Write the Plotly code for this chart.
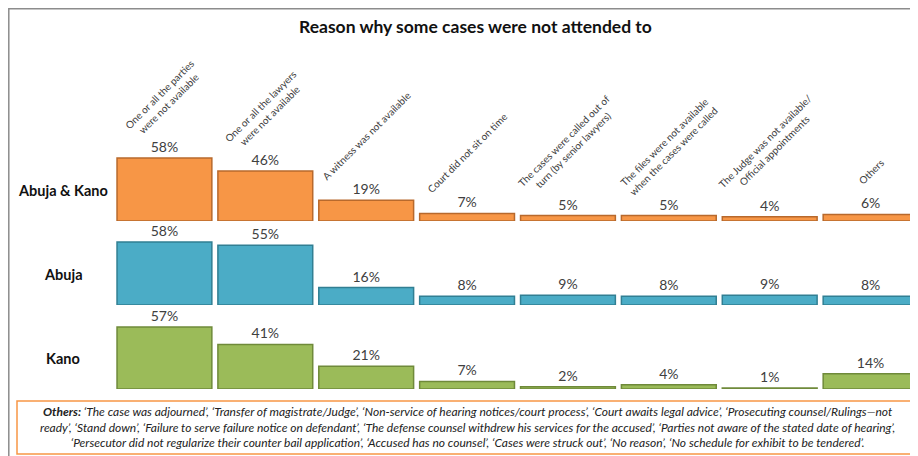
import plotly.graph_objects as go
from plotly.subplots import make_subplots

# category headers (rotated) and the three regions
reasons = [
    "One or all the parties<br>were not available",
    "One or all the lawyers<br>were not available",
    "A witness was not available",
    "Court did not sit on time",
    "The cases were called out of<br>turn (by senior lawyers)",
    "The files were not available<br>when the cases were called",
    "The Judge was not available/<br>Official appointments",
    "Others",
]
regions = ["Abuja & Kano", "Abuja", "Kano"]

abuja_kano = [58, 46, 19, 7, 5, 5, 4, 6]
abuja = [58, 55, 16, 8, 9, 8, 9, 8]
kano = [57, 41, 21, 7, 2, 4, 1, 14]

others_note = (
    "<b>Others:</b> ‘The case was adjourned’, ‘Transfer of magistrate/Judge’, "
    "‘Non-service of hearing notices/court process’, ‘Court awaits legal advice’, "
    "‘Prosecuting counsel/Rulings—not<br>ready’, ‘Stand down’, "
    "‘Failure to serve failure notice on defendant’, "
    "‘The defense counsel withdrew his services for the accused’, "
    "‘Parties not aware of the stated date of hearing’,<br>"
    "‘Persecutor did not regularize their counter bail application’, "
    "‘Accused has no counsel’, ‘Cases were struck out’, ‘No reason’, "
    "‘No schedule for exhibit to be tendered’."
)

FONT = "Lato"
TEXT_GREY = "#404040"
FILLS = ["#F79646", "#4BACC6", "#9BBB59"]
EDGES = ["#B8692C", "#317F93", "#6F8A3A"]

W, H = 918, 456
OFF = 8  # page body margin pushes the figure 8px right and down


def px_x(p):
    return (p - OFF) / W


def px_y(p):
    return 1 - (p - OFF) / H


fig = make_subplots(rows=3, cols=1, shared_xaxes=True, vertical_spacing=0)

series = [abuja_kano, abuja, kano]
for i, vals in enumerate(series):
    fig.add_trace(
        go.Bar(
            x=reasons,
            y=vals,
            marker=dict(color=FILLS[i], line=dict(color=EDGES[i], width=1.5)),
            texttemplate="%{y}%",
            textposition="outside",
            textfont=dict(family=FONT, size=14, color=TEXT_GREY),
            cliponaxis=False,
            showlegend=False,
        ),
        row=i + 1,
        col=1,
    )

# each row is 84px tall, baselines at 221 / 305 / 389 px
baselines = [221, 305, 389]
row_h = 84
yrange = [0, 77.3]
for i, base in enumerate(baselines):
    fig.update_yaxes(
        domain=[px_y(base), px_y(base - row_h)], range=yrange,
        visible=False, row=i + 1, col=1,
    )
fig.update_xaxes(
    domain=[px_x(114), 1.0], range=[-0.5, 7.47 + OFF / 100.8], visible=False,
)

annotations = []
# rotated category headers sitting above the first row's bars
for r, v in zip(reasons, abuja_kano):
    short = "<br>" not in r and len(r) < 12
    annotations.append(dict(
        x=r, y=v, xref="x", yref="y", yshift=25 if short else 15,
        text=r, showarrow=False,
        textangle=-45, xanchor="center", yanchor="bottom",
        font=dict(family=FONT, size=10, color=TEXT_GREY),
    ))

# row labels
for i, name in enumerate(regions):
    annotations.append(dict(
        x=px_x(63), y=28, xref="paper", yref="y" if i == 0 else f"y{i + 1}",
        xanchor="center", text=f"<b>{name}</b>", showarrow=False,
        font=dict(family=FONT, size=14.5, color="#111111"),
    ))

annotations.append(dict(
    x=px_x(475), y=px_y(27), xref="paper", yref="paper",
    xanchor="center", yanchor="middle",
    text="<b>Reason why some cases were not attended to</b>", showarrow=False,
    font=dict(family=FONT, size=17.5, color="#111111"),
))

annotations.append(dict(
    x=px_x(468), y=px_y(427), xref="paper", yref="paper",
    xanchor="center", yanchor="middle",
    text=f"<i>{others_note}</i>", showarrow=False, align="center",
    font=dict(family=FONT, size=12, color="#222222"),
))

shapes = [
    # chart frame
    dict(type="rect", xref="paper", yref="paper",
         x0=px_x(8.8), x1=1.05, y0=-0.05, y1=px_y(8.8),
         line=dict(color="#8C8C8C", width=1.5)),
    # footnote box
    dict(type="rect", xref="paper", yref="paper",
         x0=px_x(17), x1=px_x(915), y0=px_y(454), y1=px_y(401),
         line=dict(color="#F79646", width=1.5)),
]

fig.update_layout(
    width=W,
    height=H,
    margin=dict(l=0, r=0, t=0, b=0),
    paper_bgcolor="white",
    plot_bgcolor="white",
    bargap=0.06,
    annotations=annotations,
    shapes=shapes,
    font=dict(family=FONT),
)

fig.write_html("out.html")
